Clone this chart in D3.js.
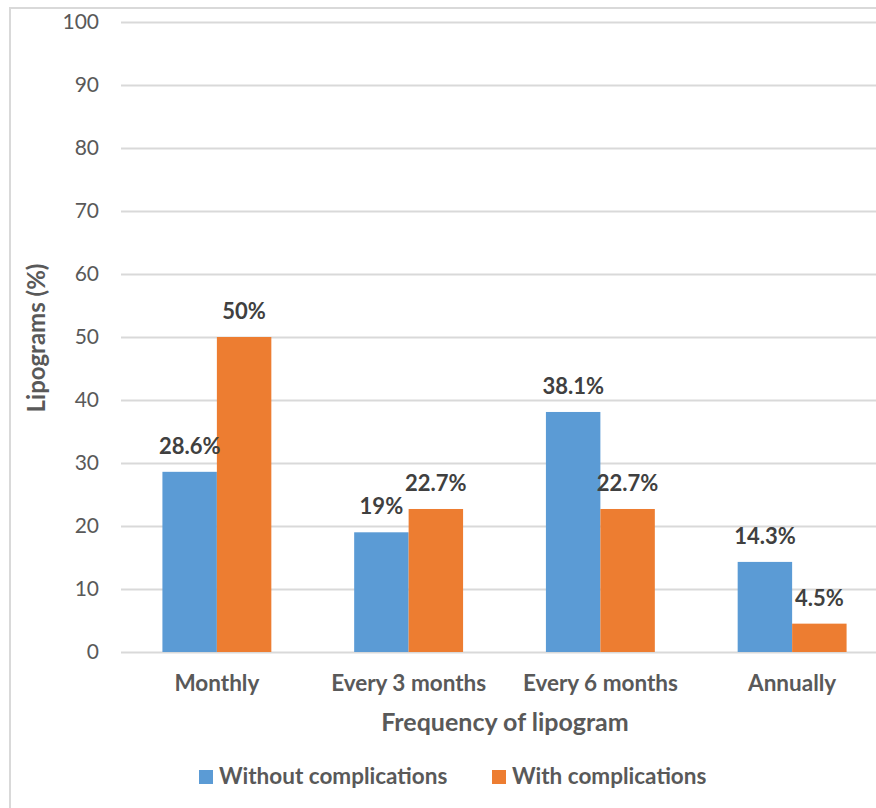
<!DOCTYPE html>
<html>
<head>
<meta charset='utf-8' />
<title>Lipogram frequency</title>
<script src="https://d3js.org/d3.v7.min.js"></script>
<style>
body { margin: 0; padding: 0; background: #fff; }
svg text { font-family: Lato, "Open Sans", sans-serif; }
</style>
</head>
<body>
<div id='chart'></div>
<script>

// data
var categories = ["Monthly", "Every 3 months", "Every 6 months", "Annually"];
var seriesNames = ["Without complications", "With complications"];
var withoutComp = [28.6, 19, 38.1, 14.3];
var withComp = [50, 22.7, 22.7, 4.5];
var yTicks = [0, 10, 20, 30, 40, 50, 60, 70, 80, 90, 100];

var colors = ["#5B9BD5", "#ED7D31"];

var W = 876, H = 808;
var margin = {top: 22, left: 121, bottom: 156, right: -12};
var plotW = W - margin.left - margin.right,
    plotH = H - margin.top - margin.bottom;

var svg = d3.select("#chart")
  .append("svg")
    .attr("width", W)
    .attr("height", H);

// outer chart border (cut off on the right and bottom)
svg.append("rect")
  .attr("x", 10).attr("y", 8)
  .attr("width", W + 20).attr("height", H + 20)
  .attr("fill", "none")
  .attr("stroke", "#d9d9d9")
  .attr("stroke-width", 2);

var g = svg.append("g")
  .attr("transform", "translate(" + margin.left + "," + margin.top + ")");

var x = d3.scaleBand()
  .domain(categories)
  .range([0, plotW])
  .paddingInner(0.432)
  .paddingOuter(0.216);

var x1 = d3.scaleBand()
  .domain(seriesNames)
  .range([0, x.bandwidth()]);

var y = d3.scaleLinear()
  .domain([0, 100])
  .range([plotH, 0]);

// gridlines + y tick labels
var yAxis = g.append("g")
  .call(d3.axisLeft(y).tickValues(yTicks).tickSize(-plotW).tickPadding(22).tickFormat(d3.format("d")));
yAxis.select(".domain").remove();
yAxis.selectAll(".tick line")
  .attr("stroke", "#d9d9d9")
  .attr("stroke-width", 2);
yAxis.selectAll(".tick text")
  .attr("fill", "#595959")
  .style("font-size", "21px");

// bars
var rows = categories.map(function(c, i) {
  return {cat: c, vals: [withoutComp[i], withComp[i]]};
});

var groups = g.selectAll(".grp")
  .data(rows)
  .enter()
  .append("g")
    .attr("class", "grp")
    .attr("transform", function(d) { return "translate(" + x(d.cat) + ",0)"; });

var bars = groups.selectAll("rect")
  .data(function(d) { return d.vals.map(function(v, j) { return {name: seriesNames[j], v: v, j: j}; }); })
  .enter();

bars.append("rect")
  .attr("x", function(d) { return x1(d.name); })
  .attr("y", function(d) { return y(d.v); })
  .attr("width", x1.bandwidth())
  .attr("height", function(d) { return plotH - y(d.v); })
  .attr("fill", function(d) { return colors[d.j]; });

bars.append("text")
  .attr("x", function(d) { return x1(d.name) + x1.bandwidth() / 2; })
  .attr("y", function(d) { return y(d.v) - 18; })
  .attr("text-anchor", "middle")
  .attr("fill", "#404040")
  .style("font-size", "22px")
  .style("font-weight", "bold")
  .text(function(d) { return d.v + "%"; });

// category labels
var xAxis = g.append("g")
  .attr("transform", "translate(0," + plotH + ")")
  .call(d3.axisBottom(x).tickSize(0).tickPadding(23));
xAxis.select(".domain").remove();
xAxis.selectAll(".tick text")
  .attr("fill", "#595959")
  .style("font-size", "22.5px")
  .style("font-weight", "bold");

// axis titles
svg.append("text")
  .attr("x", 505)
  .attr("y", 731)
  .attr("text-anchor", "middle")
  .attr("fill", "#595959")
  .style("font-size", "25px")
  .style("font-weight", "bold")
  .text("Frequency of lipogram");

svg.append("text")
  .attr("transform", "translate(45,338) rotate(-90)")
  .attr("text-anchor", "middle")
  .attr("fill", "#595959")
  .style("font-size", "24px")
  .style("font-weight", "bold")
  .text("Lipograms (%)");

// legend
var legendX = [199, 492];
var legend = svg.selectAll(".leg")
  .data(seriesNames)
  .enter()
  .append("g")
    .attr("class", "leg")
    .attr("transform", function(d, i) { return "translate(" + legendX[i] + ",770)"; });

legend.append("rect")
  .attr("width", 14)
  .attr("height", 14)
  .attr("fill", function(d, i) { return colors[i]; });

legend.append("text")
  .attr("x", 20)
  .attr("y", 14)
  .attr("fill", "#595959")
  .style("font-size", "22.5px")
  .style("font-weight", "bold")
  .text(function(d) { return d; });

</script>
</body>
</html>
